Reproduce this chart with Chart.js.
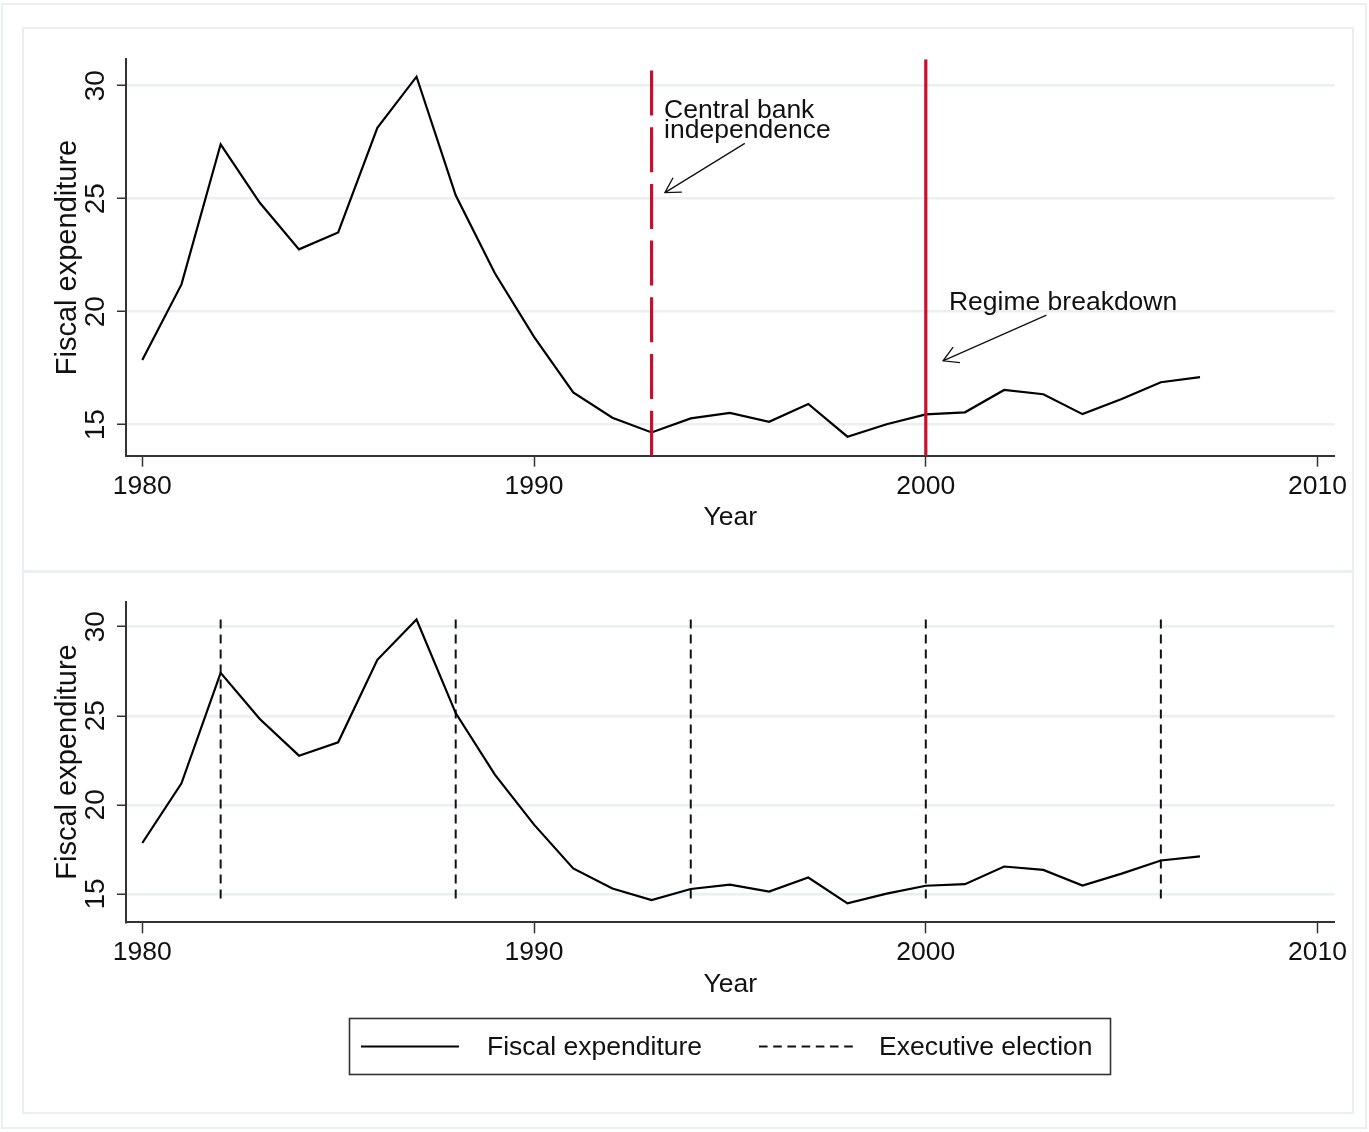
<!DOCTYPE html>
<html>
<head>
<meta charset="utf-8">
<title>Fiscal expenditure, 1980–2007</title>
<script src="https://cdn.jsdelivr.net/npm/chart.js@4.4.1/dist/chart.umd.min.js"></script>
<style>
  html, body { margin: 0; padding: 0; background: #fff; }
  #page { position: relative; width: 1369px; height: 1132px; overflow: hidden; background: #fff; }
  .frame { position: absolute; box-sizing: border-box; border: 2px solid #e9f0f1; }
  canvas { position: absolute; left: 0; }
</style>
</head>
<body>
<div id="page">
  <div class="frame" style="left:1px;top:3px;width:1366px;height:1126px"></div>
  <div class="frame" style="left:22px;top:27px;width:1332px;height:546px"></div>
  <div class="frame" style="left:22px;top:570px;width:1332px;height:544px"></div>
  <canvas id="topChart" width="1369" height="560" style="top:0"></canvas>
  <canvas id="bottomChart" width="1369" height="561" style="top:571px"></canvas>
</div>
<script>
// ---- data ----
const years = [1980, 1981, 1982, 1983, 1984, 1985, 1986, 1987, 1988, 1989,
               1990, 1991, 1992, 1993, 1994, 1995, 1996, 1997, 1998, 1999,
               2000, 2001, 2002, 2003, 2004, 2005, 2006, 2007];
const fiscalExpenditure = [17.86, 21.21, 27.41, 24.82, 22.76, 23.51, 28.14, 30.40, 25.15, 21.70,
                           18.89, 16.43, 15.31, 14.66, 15.28, 15.52, 15.13, 15.92, 14.47, 15.02,
                           15.46, 15.55, 16.54, 16.35, 15.47, 16.14, 16.88, 17.11];
const electionYears = [1982, 1988, 1994, 2000, 2006];
const centralBankYear = 1993;
const breakdownYear = 2000;
const xTickValues = [1980, 1990, 2000, 2010];
const yTickValues = [15, 20, 25, 30];

// ---- styling ----
const SANS = "'Liberation Sans', Arial, sans-serif";
const TEXT_SIZE = 26.5;
const INK = '#111111';
const AXIS = '#333333';
const GRID = '#e9f0f2';
const RED = '#c8102e';

// Annotations for the upper panel, in data units
const notes = [
  { lines: ['Central bank', 'independence'], at: [1993.32, 28.57], tail: [1995.38, 27.45], head: [1993.34, 25.27] },
  { lines: ['Regime breakdown'], at: [2000.59, 20.07], tail: [2003.08, 19.85], head: [2000.44, 17.83] }
];

const series = years.map((yr, i) => ({ x: yr, y: fiscalExpenditure[i] }));

function axes(yMin, yMax) {
  return {
    x: {
      type: 'linear', min: 1979.584, max: 2010.43,
      afterBuildTicks: s => { s.ticks = xTickValues.map(v => ({ value: v })); },
      afterFit: s => { s.height = 85; },
      grid: { drawOnChartArea: false, drawTicks: true, tickLength: 11, tickColor: AXIS, tickWidth: 1.5 },
      border: { display: true, color: AXIS, width: 2 },
      ticks: {
        autoSkip: false, minRotation: 0, maxRotation: 0, padding: 6.6, color: INK,
        font: { family: SANS, size: TEXT_SIZE, lineHeight: 1 },
        callback: v => String(v)
      },
      title: {
        display: true, text: 'Year', color: INK,
        font: { family: SANS, size: TEXT_SIZE, lineHeight: 1 },
        padding: { top: 0, bottom: 9.3 }
      }
    },
    y: {
      type: 'linear', min: yMin, max: yMax,
      afterBuildTicks: s => { s.ticks = yTickValues.map(v => ({ value: v })); },
      afterFit: s => { s.width = 100; },
      grid: { color: GRID, lineWidth: 2.5, drawTicks: true, tickLength: 9, tickColor: AXIS, tickWidth: 1.5 },
      border: { display: true, color: AXIS, width: 2 },
      ticks: {
        minRotation: 90, maxRotation: 90, crossAlign: 'center', padding: 5, color: INK,
        font: { family: SANS, size: 28, lineHeight: 1 },
        callback: v => String(v)
      },
      title: {
        display: true, text: 'Fiscal expenditure', color: INK,
        font: { family: SANS, size: 29, lineHeight: 1 },
        padding: { top: 27, bottom: 0 }
      }
    }
  };
}

function vertical(label, year, lo, hi, style) {
  return Object.assign({
    label, data: [{ x: year, y: lo }, { x: year, y: hi }],
    pointRadius: 0, fill: false, tension: 0
  }, style);
}

function arrow(ctx, x0, y0, x1, y1) {
  const ang = Math.atan2(y0 - y1, x0 - x1);
  const len = 17, spread = 0.52;
  ctx.beginPath();
  ctx.moveTo(x0, y0); ctx.lineTo(x1, y1);
  ctx.moveTo(x1 + len * Math.cos(ang - spread), y1 + len * Math.sin(ang - spread));
  ctx.lineTo(x1, y1);
  ctx.lineTo(x1 + len * Math.cos(ang + spread), y1 + len * Math.sin(ang + spread));
  ctx.stroke();
}

const annotationPlugin = {
  id: 'notes',
  afterDatasetsDraw(chart) {
    const { ctx, scales: { x, y } } = chart;
    ctx.save();
    ctx.fillStyle = INK;
    ctx.strokeStyle = INK;
    ctx.lineWidth = 1.3;
    ctx.font = `${TEXT_SIZE}px ${SANS}`;
    ctx.textAlign = 'left';
    ctx.textBaseline = 'alphabetic';
    notes.forEach(n => {
      const tx = x.getPixelForValue(n.at[0]);
      const ty = y.getPixelForValue(n.at[1]);
      n.lines.forEach((line, i) => ctx.fillText(line, tx, ty + i * 20.3));
      arrow(ctx, x.getPixelForValue(n.tail[0]), y.getPixelForValue(n.tail[1]),
                 x.getPixelForValue(n.head[0]), y.getPixelForValue(n.head[1]));
    });
    ctx.restore();
  }
};

const legendPlugin = {
  id: 'boxLegend',
  afterDraw(chart) {
    const { ctx } = chart;
    const items = [];
    chart.data.datasets.forEach(ds => {
      if (!items.find(it => it.label === ds.label)) items.push(ds);
    });
    const order = ['Fiscal expenditure', 'Executive election'];
    items.sort((a, b) => order.indexOf(a.label) - order.indexOf(b.label));
    const top = 447.5, left = 349.5, w = 761, h = 56;
    const mid = top + h / 2;
    ctx.save();
    ctx.strokeStyle = AXIS;
    ctx.lineWidth = 1.6;
    ctx.strokeRect(left, top, w, h);
    const slots = [{ x0: 361, x1: 459, tx: 487 }, { x0: 759, x1: 858, tx: 879 }];
    items.forEach((ds, i) => {
      const s = slots[i];
      ctx.strokeStyle = ds.borderColor;
      ctx.lineWidth = 2;
      ctx.setLineDash(ds.borderDash ? [8.6, 5.6] : []);
      ctx.beginPath();
      ctx.moveTo(s.x0, mid); ctx.lineTo(s.x1, mid);
      ctx.stroke();
      ctx.setLineDash([]);
      ctx.fillStyle = INK;
      ctx.font = `${TEXT_SIZE}px ${SANS}`;
      ctx.textBaseline = 'middle';
      ctx.textAlign = 'left';
      ctx.fillText(ds.label, s.tx, mid + 1);
    });
    ctx.restore();
  }
};

const common = {
  responsive: false,
  maintainAspectRatio: false,
  animation: false,
  events: [],
  plugins: { legend: { display: false }, tooltip: { enabled: false } }
};

// ---- upper panel: reforms ----
const topMin = 13.63, topMax = 31.17;
new Chart(document.getElementById('topChart'), {
  type: 'line',
  data: {
    datasets: [
      vertical('Central bank independence', centralBankYear, topMin, topMax,
               { borderColor: RED, borderWidth: 3.2, borderDash: [45, 11.7] }),
      vertical('Regime breakdown', breakdownYear, topMin, topMax,
               { borderColor: RED, borderWidth: 3.2 }),
      { label: 'Fiscal expenditure', data: series, borderColor: '#000', borderWidth: 2.2,
        pointRadius: 0, fill: false, tension: 0 }
    ]
  },
  options: Object.assign({}, common, {
    layout: { padding: { left: 26, right: 34.6, top: 59.3, bottom: 19.3 } },
    scales: axes(topMin, topMax)
  }),
  plugins: [annotationPlugin]
});

// ---- lower panel: executive elections ----
const botMin = 13.41, botMax = 31.40;
const lo = Math.min(...fiscalExpenditure), hi = Math.max(...fiscalExpenditure);
new Chart(document.getElementById('bottomChart'), {
  type: 'line',
  data: {
    datasets: [
      { label: 'Fiscal expenditure', data: series, borderColor: '#000', borderWidth: 2.2,
        pointRadius: 0, fill: false, tension: 0 },
      ...electionYears.map(yr => vertical('Executive election', yr, hi, lo,
               { borderColor: '#111', borderWidth: 2, borderDash: [9, 6] }))
    ]
  },
  options: Object.assign({}, common, {
    layout: { padding: { left: 26, right: 34.6, top: 30.7, bottom: 124.7 } },
    scales: axes(botMin, botMax)
  }),
  plugins: [legendPlugin]
});
</script>
</body>
</html>
